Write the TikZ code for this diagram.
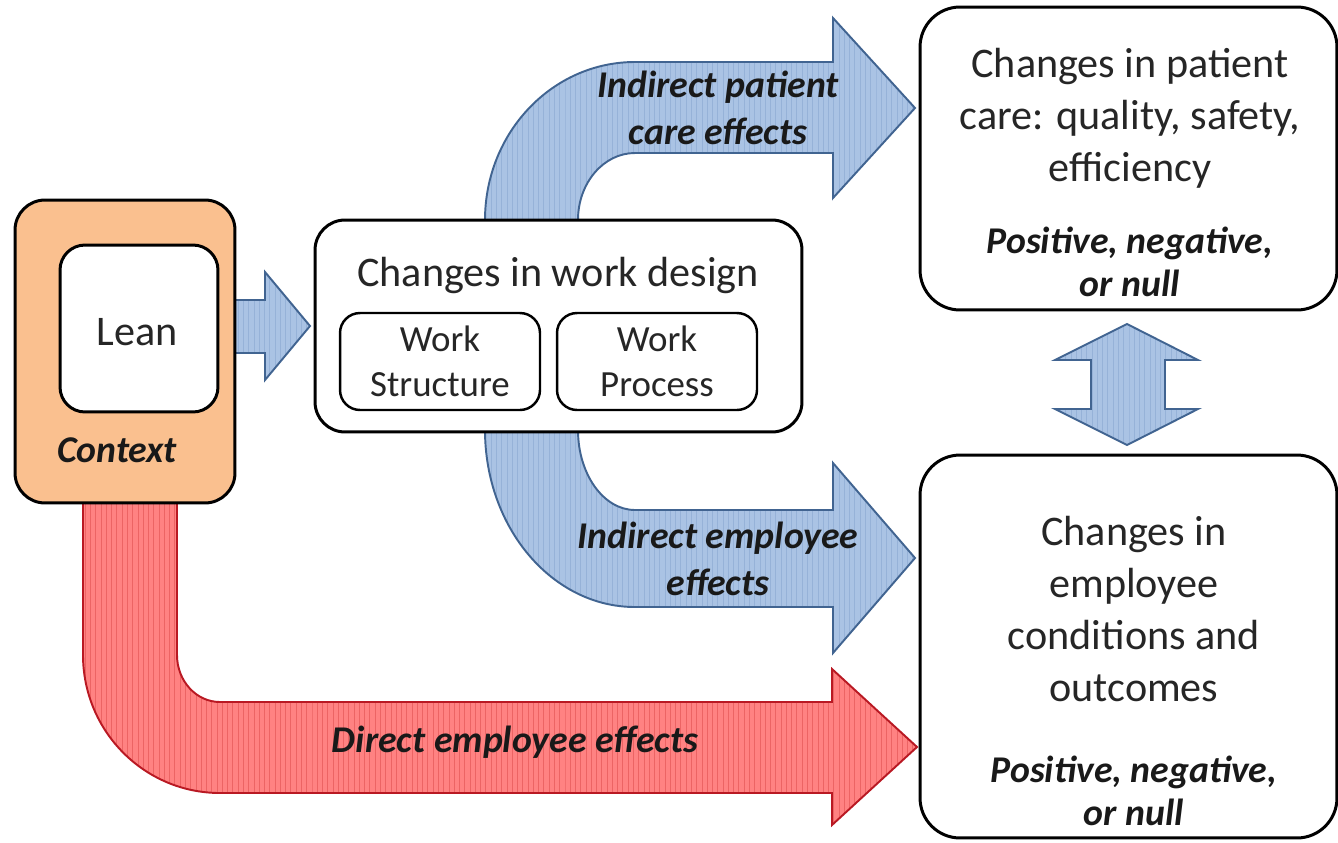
\documentclass[tikz,border=0pt]{standalone}
\usepackage{fontspec}
\setmainfont{Carlito}
\usetikzlibrary{patterns,backgrounds}

\definecolor{ctxorange}{RGB}{250,192,143}
\definecolor{effblue}{RGB}{170,195,228}
\definecolor{bluestripe}{RGB}{150,178,216}
\definecolor{bluedark}{RGB}{65,100,145}
\definecolor{effred}{RGB}{255,130,130}
\definecolor{redstripe}{RGB}{236,100,100}
\definecolor{reddark}{RGB}{185,25,35}

\tikzset{
  box/.style={draw=black, line width=1.7pt, rounded corners=0.6cm, fill=white, inner sep=0pt},
  subbox/.style={draw=black, line width=1.4pt, rounded corners=0.4cm, fill=white, inner sep=0pt},
  txt/.style={align=center, inner sep=0pt, text=black!85, font=\fontsize{24}{29.6}\selectfont},
  smalltxt/.style={align=center, inner sep=0pt, text=black!85, font=\fontsize{21}{25.6}\selectfont},
  lbl/.style={align=center, inner sep=0pt, text=black!90, font=\fontsize{21.5}{26.7}\selectfont\bfseries\itshape},
  bluearrow/.style={draw=bluedark, line width=1.1pt, preaction={fill=effblue},
    preaction={pattern=vertical lines, pattern color=bluestripe}},
  redarrow/.style={draw=reddark, line width=1.1pt, preaction={fill=effred},
    preaction={pattern=vertical lines, pattern color=redstripe}}
}

\begin{document}
\begin{tikzpicture}[x=0.02cm, y=-0.02cm]
\useasboundingbox (0,0) rectangle (1338,842);

% boxes
\node[box, fill=ctxorange, minimum width=4.4cm, minimum height=6.06cm] (ctx) at (125,351.5) {};
\node[box, rounded corners=0.5cm, minimum width=3.16cm, minimum height=3.34cm] (lean) at (139,328.5) {};
\node[txt] (leantxt) at (137,332) {Lean};
\node[lbl] (ctxtxt) at (117,450) {Context};

\node[box, minimum width=9.74cm, minimum height=4.24cm] (work) at (558.5,326) {};
\node[txt] (worktxt) at (558,275) {Changes in work design};
\node[subbox, minimum width=4cm, minimum height=1.94cm] (ws) at (440,361.5) {};
\node[subbox, minimum width=4cm, minimum height=1.94cm] (wp) at (657,361.5) {};
\node[smalltxt] at (ws) {Work\\Structure};
\node[smalltxt] at (wp) {Work\\Process};

\node[box, rounded corners=0.8cm, minimum width=8.34cm, minimum height=6.06cm] (pat) at (1128.5,158.5) {};
\node[txt] (pattxt) at (1130,118) {Changes in patient\\care: quality, safety,\\efficiency};
\node[lbl, font=\fontsize{21.5}{24.5}\selectfont\bfseries\itshape] (patres) at (1130,262) {Positive, negative,\\or null};

\node[box, rounded corners=0.8cm, minimum width=8.34cm, minimum height=7.66cm] (emp) at (1128.5,646.5) {};
\node[txt] (emptxt) at (1134,609) {Changes in\\employee\\conditions and\\outcomes};
\node[lbl, font=\fontsize{21.5}{24.5}\selectfont\bfseries\itshape] (empres) at (1134,791) {Positive, negative,\\or null};

% block arrows
\begin{scope}[on background layer]
\draw[bluearrow] (235,300) -- (265,300) -- (265,272) -- (310,326) -- (265,380) -- (265,353) -- (235,353) -- cycle;
\draw[bluearrow] (485,220) arc[start angle=180, end angle=270, x radius=150, y radius=158]
  -- (833,62) -- (833,18) -- (915,108) -- (833,198) -- (833,153) -- (635,153)
  arc[start angle=270, end angle=180, x radius=57, y radius=67] -- cycle;
\draw[bluearrow] (485,430) arc[start angle=180, end angle=90, x radius=150, y radius=177]
  -- (833,607) -- (833,653) -- (915,558) -- (833,463) -- (833,510) -- (635,510)
  arc[start angle=90, end angle=180, x radius=57, y radius=80] -- cycle;
\draw[bluearrow] (1127,324) -- (1198,360) -- (1165,360) -- (1165,409) -- (1198,409) -- (1127,445)
  -- (1055,409) -- (1091,409) -- (1091,360) -- (1055,360) -- cycle;
\draw[redarrow] (83,503) -- (83,655) arc[start angle=180, end angle=90, x radius=137, y radius=138]
  -- (832,793) -- (832,825) -- (917,747) -- (832,669) -- (832,702) -- (220,702)
  arc[start angle=90, end angle=180, x radius=43, y radius=47] -- (177,503) -- cycle;
\end{scope}

\node[lbl] (patlbl) at (718,108) {Indirect patient\\care effects};
\node[lbl] (emplbl) at (718,559) {Indirect employee\\effects};
\node[lbl] (dirlbl) at (515,742) {Direct employee effects};
\end{tikzpicture}
\end{document}
